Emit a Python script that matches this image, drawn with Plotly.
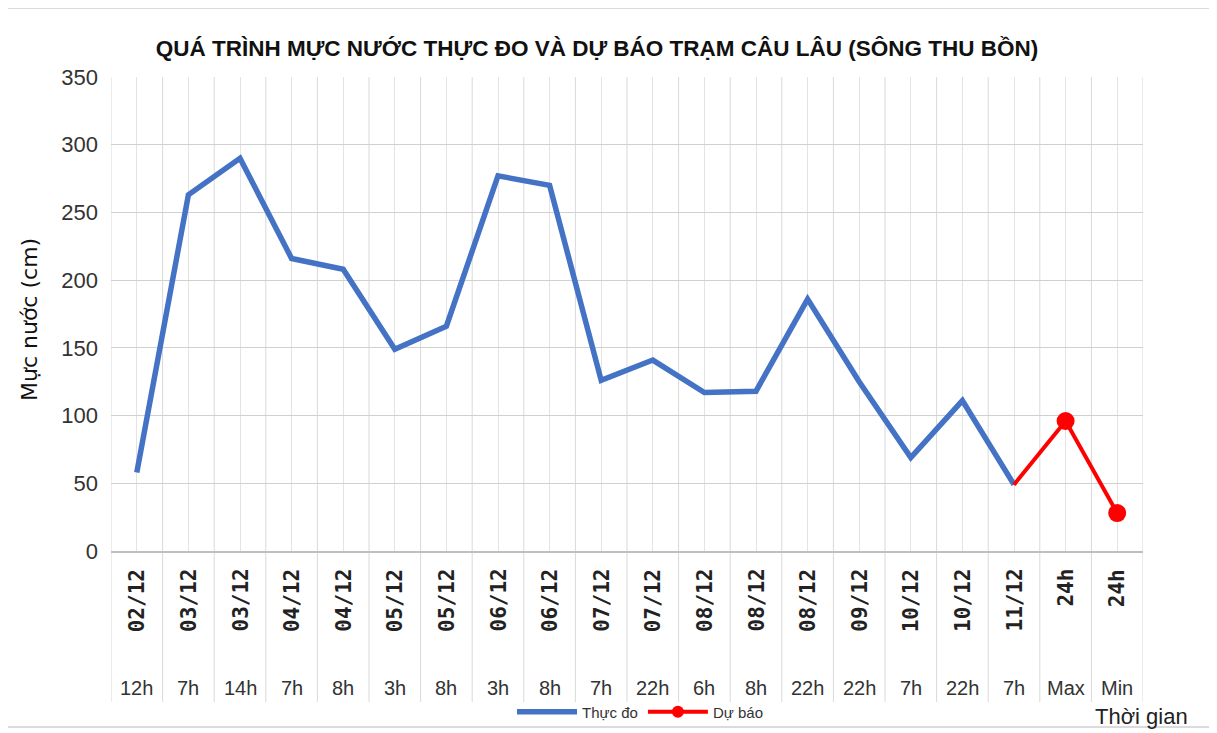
import plotly.graph_objects as go

# ---- data ----
dates = ["02/12", "03/12", "03/12", "04/12", "04/12", "05/12", "05/12", "06/12",
         "06/12", "07/12", "07/12", "08/12", "08/12", "08/12", "09/12", "10/12",
         "10/12", "11/12", "24h", "24h"]
hours = ["12h", "7h", "14h", "7h", "8h", "3h", "8h", "3h", "8h", "7h", "22h",
         "6h", "8h", "22h", "22h", "7h", "22h", "7h", "Max", "Min"]
observed = [58, 263, 290, 216, 208, 149, 166, 277, 270, 126, 141, 117, 118,
            186, 125, 69, 111, 49]
forecast = [49, 96, 28]

cats = [f"{d} {h}" for d, h in zip(dates, hours)]

# the page body adds an 8px margin; work in reference pixels and shift
OFF = 8
W, H = 1217 - OFF, 733 - OFF
PL, PR, PT, PB = 111, 1143, 77, 551  # plot area in reference pixels
L, R, T, B = PL - OFF, W - (PR - OFF), PT - OFF, H - (PB - OFF)
PW, PH = PR - PL, PB - PT


def px_y(py):
    return (PB - py) / PH


def px_x(px):
    return (px - PL) / PW


FONT = "Liberation Sans, Arial, sans-serif"

fig = go.Figure()
fig.add_trace(go.Scatter(
    x=cats[:18], y=observed, name="Thực đo", mode="lines",
    line=dict(color="#4472C4", width=5.5),
))
fig.add_trace(go.Scatter(
    x=cats[17:], y=forecast, name="Dự báo", mode="lines+markers",
    line=dict(color="#FF0000", width=4),
    marker=dict(color="#FF0000", size=[0, 18, 18], opacity=1,
                line=dict(width=0)),
))

shapes = []
for i in range(len(cats) + 1):
    shapes.append(dict(type="line", xref="x", yref="paper",
                       x0=i - 0.5, x1=i - 0.5, y0=px_y(702), y1=1,
                       line=dict(color="#d9d9d9", width=1), layer="below"))
shapes.append(dict(type="rect", xref="paper", yref="paper",
                   x0=px_x(6), x1=px_x(1210), y0=px_y(727), y1=px_y(8),
                   line=dict(color="#d0d0d0", width=1.5), layer="below"))

annotations = []
for i, (d, h) in enumerate(zip(dates, hours)):
    annotations.append(dict(x=cats[i], xref="x", y=px_y(567), yref="paper",
                            text=f"<b>{d}</b>", textangle=-90, showarrow=False,
                            xanchor="center", yanchor="top",
                            font=dict(family="DejaVu Sans Mono", size=21, color="#222")))
    annotations.append(dict(x=cats[i], xref="x", y=px_y(688), yref="paper",
                            text=h, showarrow=False, xanchor="center", yanchor="middle",
                            font=dict(family=FONT, size=20, color="#333")))

annotations.append(dict(x=px_x(29), xref="paper", y=px_y(320), yref="paper",
                        text="Mực nước (cm)", textangle=-90, showarrow=False,
                        xanchor="center", yanchor="middle",
                        font=dict(family="DejaVu Sans", size=22, color="#111")))
annotations.append(dict(x=px_x(1141), xref="paper", y=px_y(716), yref="paper",
                        text="Thời gian", showarrow=False,
                        xanchor="center", yanchor="middle",
                        font=dict(family=FONT, size=22, color="#222")))

fig.update_layout(
    width=W, height=H,
    margin=dict(l=L, r=R, t=T, b=B, autoexpand=False),
    paper_bgcolor="white", plot_bgcolor="white",
    title=dict(text="<b>QUÁ TRÌNH MỰC NƯỚC THỰC ĐO VÀ DỰ BÁO TRẠM CÂU LÂU (SÔNG THU BỒN)</b>",
               x=(597 - OFF) / W, xanchor="center", y=1 - (48 - OFF) / H, yanchor="middle",
               font=dict(family=FONT, size=22.5, color="#111")),
    xaxis=dict(type="category", categoryorder="array", categoryarray=cats,
               range=[-0.5, len(cats) - 0.5], showticklabels=False,
               showgrid=True, gridcolor="#e3e3e3", gridwidth=1,
               showline=True, linecolor="#bfbfbf", linewidth=1.5, ticks=""),
    yaxis=dict(range=[0, 350], dtick=50, showgrid=True, gridcolor="#d0d0d0",
               gridwidth=1, zeroline=False, ticks="", ticklabelstandoff=12,
               tickfont=dict(family=FONT, size=22, color="#333")),
    legend=dict(orientation="h", x=px_x(640), xanchor="center",
                y=px_y(712), yanchor="middle", itemwidth=60,
                font=dict(family=FONT, size=15, color="#333"),
                bgcolor="rgba(0,0,0,0)"),
    shapes=shapes, annotations=annotations,
)

fig.write_html("out.html")
